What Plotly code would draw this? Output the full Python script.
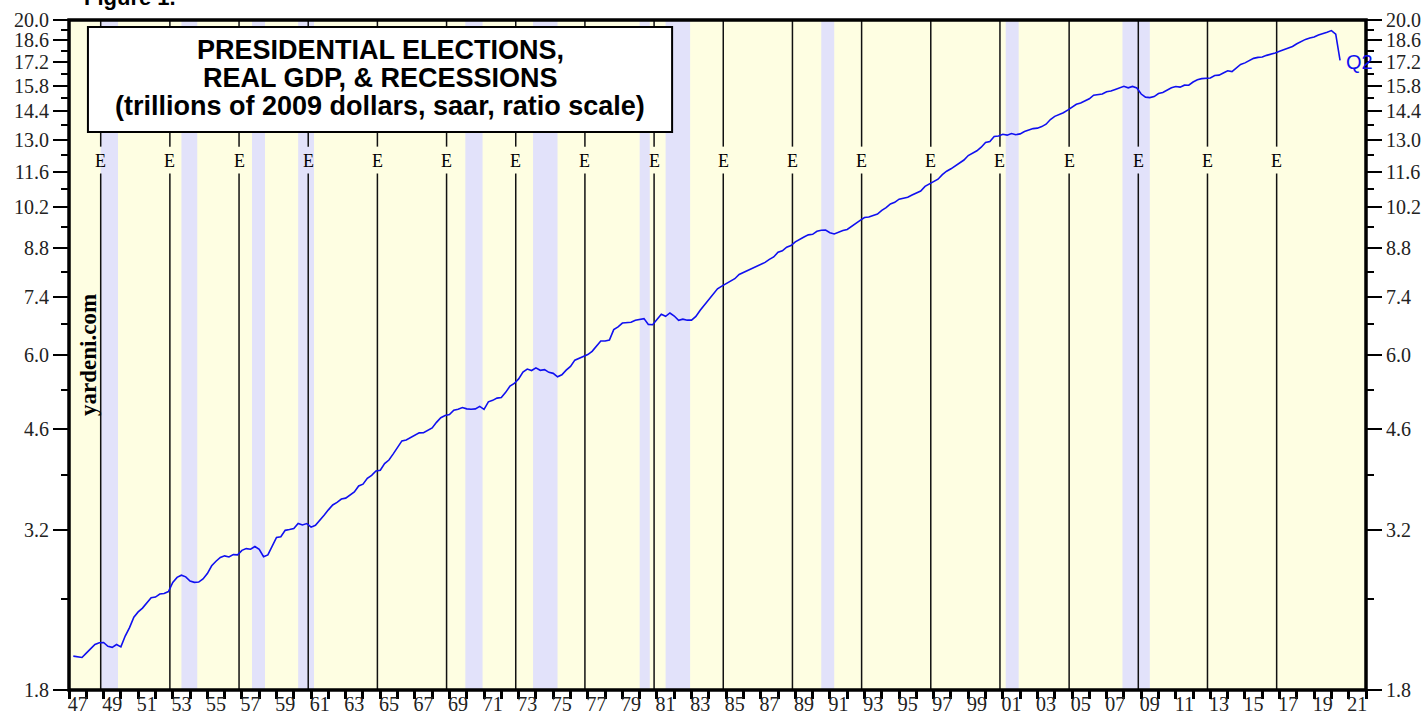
import math
import plotly.graph_objects as go

# Real GDP, quarterly, trillions, one list per decade
gdp_1940s = [2.033, 2.028, 2.023, 2.055,
             2.086, 2.120, 2.133, 2.135,
             2.106, 2.098, 2.120, 2.102]
gdp_1950s = [2.185, 2.252, 2.339, 2.383, 2.416, 2.458, 2.508, 2.514,
             2.541, 2.546, 2.564, 2.649, 2.698, 2.719, 2.703, 2.662,
             2.650, 2.653, 2.683, 2.735, 2.813, 2.859, 2.898, 2.915,
             2.904, 2.928, 2.925, 2.973, 2.992, 2.986, 3.015, 2.984,
             2.906, 2.925, 3.021, 3.115, 3.123, 3.195, 3.204, 3.216]
gdp_1960s = [3.276, 3.258, 3.274, 3.232, 3.254, 3.309, 3.373, 3.439,
             3.500, 3.532, 3.575, 3.587, 3.626, 3.667, 3.747, 3.772,
             3.851, 3.893, 3.954, 3.966, 4.062, 4.114, 4.205, 4.302,
             4.407, 4.422, 4.459, 4.496, 4.536, 4.538, 4.581, 4.616,
             4.710, 4.789, 4.826, 4.845, 4.921, 4.936, 4.968, 4.944]
gdp_1970s = [4.937, 4.944, 4.989, 4.936, 5.070, 5.097, 5.139, 5.151,
             5.246, 5.365, 5.416, 5.506, 5.643, 5.704, 5.674, 5.728,
             5.679, 5.692, 5.638, 5.617, 5.548, 5.588, 5.683, 5.760,
             5.890, 5.933, 5.965, 6.009, 6.079, 6.198, 6.310, 6.310,
             6.330, 6.574, 6.640, 6.730, 6.742, 6.749, 6.799, 6.816]
gdp_1980s = [6.838, 6.697, 6.689, 6.814, 6.947, 6.896, 6.978, 6.902,
             6.795, 6.826, 6.800, 6.802, 6.892, 7.049, 7.190, 7.340,
             7.483, 7.613, 7.686, 7.749, 7.824, 7.893, 8.014, 8.073,
             8.149, 8.185, 8.264, 8.308, 8.370, 8.460, 8.534, 8.680,
             8.725, 8.840, 8.891, 9.010, 9.102, 9.171, 9.239, 9.257]
gdp_1990s = [9.358, 9.392, 9.398, 9.313, 9.269, 9.342, 9.389, 9.422,
             9.534, 9.638, 9.733, 9.835, 9.851, 9.908, 9.956, 10.091,
             10.189, 10.327, 10.387, 10.506, 10.544, 10.575, 10.665, 10.737,
             10.818, 10.998, 11.097, 11.212, 11.285, 11.472, 11.616, 11.715,
             11.832, 11.942, 12.092, 12.287, 12.403, 12.499, 12.662, 12.878]
gdp_2000s = [12.924, 13.161, 13.178, 13.261, 13.223, 13.300, 13.245, 13.281,
             13.397, 13.478, 13.538, 13.559, 13.634, 13.752, 13.985, 14.146,
             14.221, 14.330, 14.465, 14.610, 14.772, 14.840, 14.972, 15.067,
             15.267, 15.303, 15.326, 15.457, 15.493, 15.582, 15.667, 15.762,
             15.671, 15.752, 15.667, 15.328, 15.156, 15.134, 15.189, 15.356]
gdp_2010s = [15.415, 15.557, 15.672, 15.751, 15.713, 15.825, 15.821, 16.004,
             16.129, 16.199, 16.221, 16.239, 16.383, 16.403, 16.532, 16.664,
             16.617, 16.841, 17.047, 17.143, 17.306, 17.423, 17.486, 17.514,
             17.613, 17.668, 17.764, 17.876, 17.977, 18.054, 18.186, 18.359,
             18.530, 18.654, 18.752, 18.814, 18.950, 19.021, 19.142, 19.254]
gdp_2020s = [19.011, 17.303]

first_year = 1947
election_years = [1948, 1952, 1956, 1960, 1964, 1968, 1972, 1976, 1980,
                  1984, 1988, 1992, 1996, 2000, 2004, 2008, 2012, 2016]
# (start year, start month, end year, end month)
recessions = [(1948, 11, 1949, 10), (1953, 7, 1954, 5), (1957, 8, 1958, 4),
              (1960, 4, 1961, 2), (1969, 12, 1970, 11), (1973, 11, 1975, 3),
              (1980, 1, 1980, 7), (1981, 7, 1982, 11), (1990, 7, 1991, 3),
              (2001, 3, 2001, 11), (2007, 12, 2009, 6)]
y_ticks = [1.8, 3.2, 4.6, 6.0, 7.4, 8.8, 10.2, 11.6, 13.0, 14.4, 15.8, 17.2, 18.6, 20.0]
y_minor = [2.5, 3.9, 5.3, 6.7, 8.1, 9.5, 10.9, 12.3, 13.7, 15.1, 16.5, 17.9, 19.3]
x_label_years = list(range(1947, 2022, 2))
title_lines = ["PRESIDENTIAL ELECTIONS,", "REAL GDP, & RECESSIONS",
               "(trillions of 2009 dollars, saar, ratio scale)"]

gdp = gdp_1940s + gdp_1950s + gdp_1960s + gdp_1970s + gdp_1980s + gdp_1990s + gdp_2000s + gdp_2010s + gdp_2020s
# quarters plotted at quarter end
x = [first_year + (i + 1) * 0.25 for i in range(len(gdp))]

SERIF = "Liberation Serif, Times New Roman, serif"
SANS = "Liberation Sans, Arial, sans-serif"
YELLOW = "#FEFEE2"
LAVENDER = "#E2E2FA"
E_Y = 0.79  # paper height of the "E" marks

fig = go.Figure()
fig.add_trace(go.Scatter(x=x, y=gdp, mode="lines",
                         line=dict(color="#1010F0", width=1.6),
                         showlegend=False, hoverinfo="x+y"))
# invisible copy so the right-hand axis gets drawn
fig.add_trace(go.Scatter(x=x, y=gdp, mode="lines", yaxis="y2",
                         line=dict(width=0), opacity=0,
                         showlegend=False, hoverinfo="skip"))

# recession shading
for y0, m0, y1, m1 in recessions:
    fig.add_shape(type="rect", xref="x", yref="paper",
                  x0=y0 + (m0 - 1) / 12, x1=y1 + m1 / 12, y0=0, y1=1,
                  fillcolor=LAVENDER, line_width=0, layer="below")

# election lines with a gap round the "E"
for yr in election_years:
    ex = yr + 10 / 12
    fig.add_shape(type="line", xref="x", yref="paper", x0=ex, x1=ex, y0=0, y1=E_Y - 0.019,
                  line=dict(color="#111111", width=1.5), layer="below")
    fig.add_shape(type="line", xref="x", yref="paper", x0=ex, x1=ex, y0=E_Y + 0.021, y1=1,
                  line=dict(color="#111111", width=1.5), layer="below")
    fig.add_annotation(x=ex, y=E_Y, xref="x", yref="paper", text="E",
                       xanchor="center", yanchor="middle", showarrow=False,
                       font=dict(family=SERIF, size=18, color="black"))

# frame
fig.add_shape(type="rect", xref="paper", yref="paper", x0=0, x1=1, y0=0, y1=1,
              line=dict(color="black", width=3.5))

# title box
fig.add_shape(type="rect", xref="paper", yref="paper", x0=0.0146, x1=0.465,
              y0=0.833, y1=0.9896, fillcolor="white", line=dict(color="black", width=2))
for i, line in enumerate(title_lines):
    fig.add_annotation(x=0.2398, y=0.9552 - i * 0.0418, xref="paper", yref="paper",
                       text=f"<b>{line}</b>", xanchor="center", yanchor="middle",
                       showarrow=False, font=dict(family=SANS, size=27, color="black"))

fig.add_annotation(x=0.0146, y=0.5, xref="paper", yref="paper", text="<b>yardeni.com</b>",
                   textangle=-90, xanchor="center", yanchor="middle", showarrow=False,
                   font=dict(family=SERIF, size=23, color="black"))

fig.add_annotation(x=0.01, y=1, xref="paper", yref="paper", yshift=8, text="<b>Figure 1.</b>",
                   xanchor="left", yanchor="bottom", showarrow=False,
                   font=dict(family=SANS, size=22, color="black"))

# log axis: annotation y is given in log10 units
fig.add_annotation(x=x[-1], y=math.log10(gdp[-1]), xref="x", yref="y", text="Q2",
                   xanchor="left", yanchor="middle", xshift=4, yshift=-2, showarrow=False,
                   font=dict(family=SANS, size=20, color="#1010F0"))

yax = dict(type="log", range=[math.log10(1.8), math.log10(20)], tickmode="array",
           tickvals=y_ticks, ticktext=[f"{v:.1f}" for v in y_ticks],
           ticks="outside", ticklen=15, tickwidth=2, tickcolor="black",
           minor=dict(tickvals=y_minor, ticks="outside", ticklen=7, tickwidth=2,
                      tickcolor="black", showgrid=False),
           showgrid=False, zeroline=False, showline=False, automargin=False,
           tickfont=dict(family=SERIF, size=20, color="#222222"), fixedrange=True)

fig.update_layout(
    width=1427, height=721,
    margin=dict(l=69, r=61, t=20, b=31, autoexpand=False),
    paper_bgcolor="white", plot_bgcolor=YELLOW,
    xaxis=dict(range=[1947, 2022], tickmode="array",
               tickvals=[y + 0.5 for y in x_label_years],
               ticktext=[f"{y % 100:02d}" for y in x_label_years],
               ticks="", showgrid=False, zeroline=False, showline=False, automargin=False,
               minor=dict(tick0=1947, dtick=1, ticks="outside", ticklen=8,
                          tickwidth=3, tickcolor="black", showgrid=False),
               tickfont=dict(family=SERIF, size=20, color="#222222"), fixedrange=True),
    yaxis=yax,
    yaxis2=dict(yax, overlaying="y", side="right", anchor="x"),
    showlegend=False,
)

# drop the browser's default body margin so the figure sits at the page corner
fig.write_html("out.html", config={"displayModeBar": False},
               post_script="document.body.style.margin='0';")
